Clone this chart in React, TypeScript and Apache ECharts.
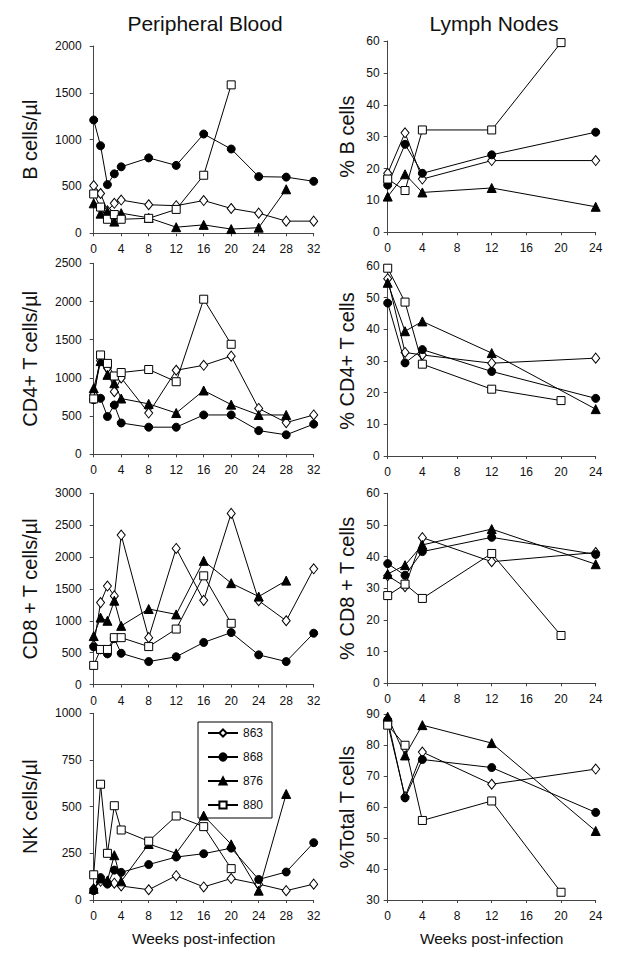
import React, { useEffect, useRef } from "react";
import * as echarts from "echarts";

const FONT = "'Liberation Sans', Arial, sans-serif";

const weeksPB = [0, 1, 2, 3, 4, 8, 12, 16, 20, 24, 28, 32];
const weeksLN = [0, 2, 4, 12, 20, 24];
const animals = ["863", "868", "876", "880"];

// Peripheral blood: B cells/µl
const b863 = [510, 425, 240, 320, 355, 305, 295, 350, 265, 215, 130, 130];
const b868 = [1210, 935, 520, 635, 710, 805, 725, 1060, 900, 605, 600, 555];
const b876 = [320, 210, 230, 125, 215, 165, 65, 90, 45, 60, 470, null];
const b880 = [420, 280, 150, 200, 150, 160, 255, 620, 1585, null, null, null];

// Peripheral blood: CD4+ T cells/µl
const c863 = [780, 1225, 1130, 820, 1000, 540, 1100, 1165, 1285, 600, 415, 515];
const c868 = [715, 733, 495, 645, 410, 355, 355, 515, 515, 310, 255, 395];
const c876 = [865, 1220, 1040, 930, 730, 660, 540, 835, 650, 515, 515, null];
const c880 = [725, 1300, 1190, 1025, 1070, 1110, 950, 2030, 1440, null, null, null];

// Peripheral blood: CD8+ T cells/µl
const d863 = [610, 1285, 1545, 1390, 2345, 735, 2135, 1320, 2685, 1315, 1000, 1815];
const d868 = [590, 545, 480, 720, 490, 360, 435, 660, 815, 465, 360, 805];
const d876 = [760, 1050, 1000, 1315, 920, 1185, 1100, 1940, 1590, 1380, 1630, null];
const d880 = [300, 550, 550, 735, 735, 595, 870, 1705, 960, null, null, null];

// Peripheral blood: NK cells/µl
const n863 = [60, 100, 95, 90, 75, 55, 130, 70, 115, 85, 50, 85];
const n868 = [50, 120, 85, 160, 148, 190, 230, 248, 278, 110, 150, 307];
const n876 = [60, 115, 105, 240, 100, 300, 250, 452, 298, 50, 568, null];
const n880 = [135, 620, 250, 505, 375, 315, 450, 393, 168, null, null, null];

// Lymph nodes: % B cells
const lb863 = [18.5, 31.2, 16.7, 22.5, null, 22.5];
const lb868 = [14.8, 27.6, 18.5, 24.3, null, 31.4];
const lb876 = [11.2, 18.2, 12.5, 13.9, null, 8.0];
const lb880 = [16.7, 13.1, 32.1, 32.1, 59.5, null];

// Lymph nodes: % CD4+ T cells
const lc863 = [56, 32.7, 31.9, 29.3, null, 30.9];
const lc868 = [48.3, 29.4, 33.6, 26.7, null, 18.2];
const lc876 = [54.7, 39.4, 42.5, 32.5, null, 14.8];
const lc880 = [59.3, 48.6, 29.0, 21.1, 17.5, null];

// Lymph nodes: % CD8+ T cells
const ld863 = [34.0, 30.5, 46.0, 38.4, null, 41.3];
const ld868 = [37.8, 34.1, 41.6, 46.1, null, 40.7];
const ld876 = [34.5, 37.3, 43.7, 48.7, null, 37.6];
const ld880 = [27.7, 31.3, 26.8, 41.0, 15.1, null];

// Lymph nodes: % Total T cells
const lt863 = [87.0, 63.4, 77.8, 67.4, null, 72.3];
const lt868 = [88.2, 63.0, 75.4, 72.8, null, 58.3];
const lt876 = [89.2, 76.7, 86.5, 80.7, null, 52.3];
const lt880 = [86.5, 80.0, 55.7, 62.0, 32.5, null];

const panelsPB = [
  { name: "B cells/\u00b5l", max: 2000, interval: 500, data: [b863, b868, b876, b880] },
  { name: "CD4+ T cells/\u00b5l", max: 2500, interval: 500, data: [c863, c868, c876, c880] },
  { name: "CD8 + T cells/\u00b5l", max: 3000, interval: 500, data: [d863, d868, d876, d880] },
  { name: "NK cells/\u00b5l", max: 1000, interval: 250, data: [n863, n868, n876, n880] },
];
const panelsLN = [
  { name: "% B cells", min: 0, max: 60, interval: 10, data: [lb863, lb868, lb876, lb880] },
  { name: "% CD4+ T cells", min: 0, max: 60, interval: 10, data: [lc863, lc868, lc876, lc880] },
  { name: "% CD8 + T cells", min: 0, max: 60, interval: 10, data: [ld863, ld868, ld876, ld880] },
  { name: "%Total T cells", min: 30, max: 90, interval: 10, data: [lt863, lt868, lt876, lt880] },
];

const rowsL = [
  [46, 187.3],
  [263.3, 191],
  [493.3, 191.2],
  [713.3, 186.7],
];
const rowsR = [
  [41, 191.3],
  [266, 190],
  [493.3, 190],
  [714.3, 185.7],
];

const symbolStyles = [
  { symbol: "diamond", symbolSize: [8, 10], fill: "#fff" },
  { symbol: "circle", symbolSize: 8, fill: "#000" },
  { symbol: "triangle", symbolSize: 9, fill: "#000" },
  { symbol: "rect", symbolSize: 8, fill: "#fff" },
];

function toPairs(weeks: number[], vals: (number | null)[]) {
  const out: number[][] = [];
  weeks.forEach((w, i) => {
    const v = vals[i];
    if (v !== null && v !== undefined) out.push([w, v]);
  });
  return out;
}

export default function App() {
  const ref = useRef<HTMLDivElement>(null);
  useEffect(() => {
    if (!ref.current) return;
    const chart = echarts.init(ref.current, undefined, { renderer: "svg" });
    const grid: any[] = [];
    const xAxis: any[] = [];
    const yAxis: any[] = [];
    const series: any[] = [];
    const axisLine = { show: true, lineStyle: { color: "#444", width: 1 } };
    const axisTick = { show: true, length: 4, lineStyle: { color: "#444" } };
    const labelStyle = {
      color: "#111",
      fontSize: 12,
      fontFamily: FONT,
      formatter: (v: number) => String(v),
    };

    const addPanel = (
      idx: number,
      left: number,
      width: number,
      top: number,
      height: number,
      xmax: number,
      weeks: number[],
      p: any,
      ymin: number,
      yNameGap: number,
      yLabelMargin: number,
      isBottom: boolean
    ) => {
      grid.push({ left, top, width, height, containLabel: false });
      xAxis.push({
        type: "value",
        gridIndex: idx,
        min: 0,
        max: xmax,
        interval: 4,
        axisLine,
        axisTick: { ...axisTick, length: 3 },
        splitLine: { show: false },
        axisLabel: { ...labelStyle, margin: 10 },
        name: isBottom ? "Weeks post-infection" : "",
        nameLocation: "middle",
        nameGap: 30,
        nameTextStyle: { fontSize: 15.5, color: "#111", fontFamily: FONT },
      });
      yAxis.push({
        type: "value",
        gridIndex: idx,
        min: ymin,
        max: p.max,
        interval: p.interval,
        axisLine,
        axisTick,
        splitLine: { show: false },
        axisLabel: { ...labelStyle, margin: yLabelMargin },
        name: p.name,
        nameLocation: "middle",
        nameGap: yNameGap,
        nameRotate: 90,
        nameTextStyle: { fontSize: 20, color: "#111", fontFamily: FONT },
      });
      p.data.forEach((vals: (number | null)[], k: number) => {
        const s = symbolStyles[k];
        series.push({
          type: "line",
          name: animals[k],
          xAxisIndex: idx,
          yAxisIndex: idx,
          data: toPairs(weeks, vals),
          symbol: s.symbol,
          symbolSize: s.symbolSize,
          showAllSymbol: true,
          connectNulls: true,
          lineStyle: { color: "#000", width: 1 },
          itemStyle: { color: s.fill, borderColor: "#000", borderWidth: 1 },
          emphasis: { disabled: true },
          z: 2 + k,
        });
      });
    };

    panelsPB.forEach((p, i) => {
      addPanel(i, 93.7, 220, rowsL[i][0], rowsL[i][1], 32, weeksPB, p, 0, 54, 12, i === 3);
    });
    panelsLN.forEach((p, i) => {
      addPanel(4 + i, 387.7, 208, rowsR[i][0], rowsR[i][1], 24, weeksLN, p, p.min, 31, 8, i === 3);
    });

    chart.setOption({
      animation: false,
      backgroundColor: "#fff",
      textStyle: { fontFamily: FONT },
      grid,
      xAxis,
      yAxis,
      series,
      legend: {
        data: animals,
        orient: "vertical",
        left: 198,
        top: 722,
        width: 70,
        borderColor: "#000",
        borderWidth: 1,
        borderRadius: 0,
        padding: [5, 9, 7, 9],
        itemWidth: 30,
        itemHeight: 9,
        itemGap: 12,
        selectedMode: false,
        textStyle: { fontSize: 12, color: "#111", fontFamily: FONT, lineHeight: 9 },
      },
      graphic: [
        {
          type: "text",
          x: 205,
          y: 23,
          style: {
            text: "Peripheral Blood",
            font: `21px ${FONT}`,
            fill: "#111",
            textAlign: "center",
            textVerticalAlign: "middle",
          },
        },
        {
          type: "text",
          x: 494,
          y: 23,
          style: {
            text: "Lymph Nodes",
            font: `21px ${FONT}`,
            fill: "#111",
            textAlign: "center",
            textVerticalAlign: "middle",
          },
        },
      ],
    });
    return () => chart.dispose();
  }, []);
  return (
    <div
      ref={ref}
      style={{ position: "absolute", left: 0, top: 0, width: 621, height: 964, background: "#fff" }}
    />
  );
}
